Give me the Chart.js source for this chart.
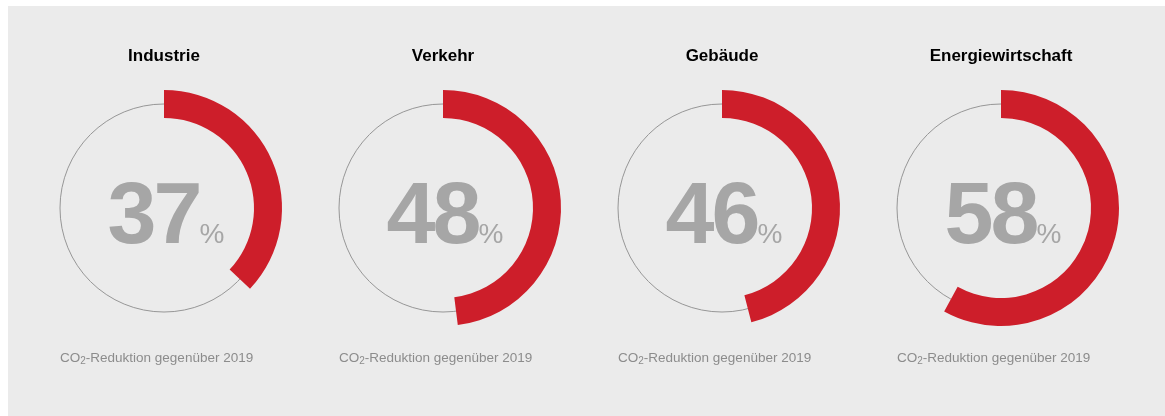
<!DOCTYPE html>
<html>
<head>
<meta charset="utf-8">
<script src="https://cdn.jsdelivr.net/npm/chart.js@4"></script>
<style>
  html, body { margin: 0; padding: 0; background: #fff; }
  #panel { position: absolute; left: 8px; top: 6px; right: 0; bottom: 0; background: #ebebeb; }
  .cell { position: absolute; top: 0; width: 280px; height: 416px; }
</style>
</head>
<body>
<div id="panel"></div>
<div class="cell" style="left:24px"><canvas id="c0"></canvas></div>
<div class="cell" style="left:303px"><canvas id="c1"></canvas></div>
<div class="cell" style="left:582px"><canvas id="c2"></canvas></div>
<div class="cell" style="left:861px"><canvas id="c3"></canvas></div>
<script>
const sectors = ["Industrie", "Verkehr", "Gebäude", "Energiewirtschaft"];
const reduction = [37, 48, 46, 58];
// caption split so the "2" can be drawn as a subscript
const captionParts = ["CO", "2", "-Reduktion gegenüber 2019"];

const RED = "#cd1e2a";
const NUM_GREY = "#a6a6a6";
const FONT = "'Liberation Sans', Arial, sans-serif";

// thin grey circle behind the red arc + big number + caption
const gaugeText = {
  id: "gaugeText",
  beforeDatasetsDraw(chart) {
    const arc = chart.getDatasetMeta(0).data[0];
    const ctx = chart.ctx;
    const r = (arc.innerRadius + arc.outerRadius) / 2;
    ctx.save();
    ctx.strokeStyle = "#969696";
    ctx.lineWidth = 1;
    ctx.beginPath();
    ctx.arc(arc.x, arc.y, r, 0, Math.PI * 2);
    ctx.stroke();
    ctx.restore();
  },
  afterDraw(chart, args, opts) {
    const arc = chart.getDatasetMeta(0).data[0];
    const ctx = chart.ctx;
    ctx.save();
    ctx.fillStyle = NUM_GREY;
    ctx.textBaseline = "alphabetic";
    ctx.textAlign = "left";
    const num = String(opts.value);
    ctx.font = "bold 88px " + FONT;
    ctx.letterSpacing = "-3px";
    const wNum = ctx.measureText(num).width;
    ctx.font = "28px " + FONT;
    ctx.letterSpacing = "0px";
    const wPct = ctx.measureText("%").width;
    const x0 = arc.x + 2 - (wNum + wPct) / 2;
    const base = arc.y + 35;
    ctx.font = "bold 88px " + FONT;
    ctx.letterSpacing = "-3px";
    ctx.fillText(num, x0, base);
    ctx.font = "28px " + FONT;
    ctx.letterSpacing = "0px";
    ctx.fillText("%", x0 + wNum, base);

    // caption
    ctx.fillStyle = "#8c8c8c";
    let x = arc.x - 104;
    const cy = 362;
    ctx.font = "13.5px " + FONT;
    ctx.fillText(captionParts[0], x, cy);
    x += ctx.measureText(captionParts[0]).width;
    ctx.font = "10px " + FONT;
    ctx.fillText(captionParts[1], x, cy + 2);
    x += ctx.measureText(captionParts[1]).width;
    ctx.font = "13.5px " + FONT;
    ctx.fillText(captionParts[2], x, cy);
    ctx.restore();
  }
};

sectors.forEach((name, i) => {
  const v = reduction[i];
  new Chart(document.getElementById("c" + i), {
    type: "doughnut",
    data: {
      labels: ["Reduktion", ""],
      datasets: [{
        data: [v, 100 - v],
        backgroundColor: [RED, "rgba(0,0,0,0)"],
        borderWidth: 0
      }]
    },
    options: {
      responsive: true,
      maintainAspectRatio: false,
      animation: false,
      radius: 118,
      cutout: 90,
      layout: { padding: { top: 0, bottom: 90 } },
      plugins: {
        legend: { display: false },
        tooltip: { enabled: false },
        title: {
          display: true,
          text: name,
          color: "#000",
          font: { family: FONT, size: 17, weight: "bold" },
          padding: { top: 46, bottom: 23.6 }
        },
        gaugeText: { value: v }
      }
    },
    plugins: [gaugeText]
  });
});
</script>
</body>
</html>
